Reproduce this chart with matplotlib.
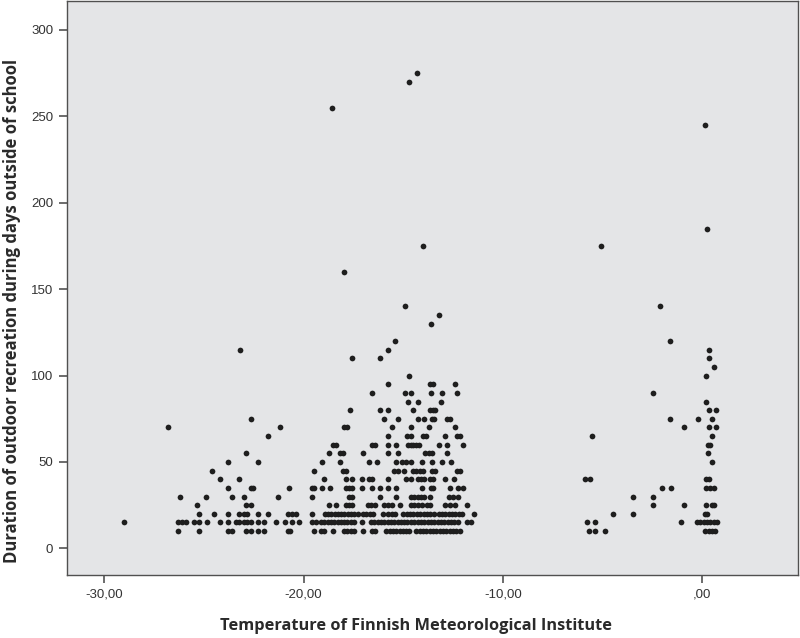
import numpy as np
import matplotlib.pyplot as plt
from matplotlib.ticker import FuncFormatter

# Temperature readings grouped by duration (minutes); each list is one horizontal row of dots
row_10 = [-26.28, -25.27, -23.78, -23.57, -22.88, -22.63, -22.28, -21.98, -20.77, -20.67,
          -19.47, -19.13, -18.97, -18.53, -17.96, -17.80, -17.63, -17.46, -17.02, -16.57, -16.41,
          -15.86, -15.69, -15.52, -15.35, -15.19, -15.02, -14.85, -14.69,
          -14.35, -14.18, -14.01, -13.85, -13.68, -13.51, -13.35, -13.18, -13.01, -12.84,
          -12.68, -12.51, -12.34, -12.18,
          -5.69, -5.39, -4.90, 0.15, 0.32, 0.49, 0.65]
row_15 = [-28.99, -26.28, -26.09, -25.92, -25.49, -25.27, -24.87, -24.17, -23.78, -23.38,
          -23.23, -22.98, -22.83, -22.63, -22.28, -22.01, -21.37, -20.92, -20.57, -20.22,
          -19.57, -19.40, -19.13, -18.97, -18.80, -18.63, -18.46, -18.30, -18.13, -17.96,
          -17.80, -17.63, -17.46, -17.07, -16.62, -16.46, -16.29, -16.12, -15.96, -15.79,
          -15.62, -15.45, -15.29, -15.12, -14.95, -14.79, -14.62, -14.45, -14.28, -14.12,
          -13.95, -13.78, -13.62, -13.45, -13.28, -13.12, -12.95, -12.78, -12.61, -12.44,
          -12.28, -11.81, -11.61,
          -5.79, -5.39, -1.05, -0.27, -0.10, 0.07, 0.24, 0.40, 0.57, 0.74]
row_20 = [-25.27, -24.52, -23.78, -23.23, -22.98, -22.83, -22.28, -21.78, -20.77, -20.57, -20.37,
          -19.57, -18.95, -18.78, -18.62, -18.45, -18.28, -18.12, -17.95, -17.78, -17.62,
          -17.45, -17.28, -17.02, -16.86, -16.69, -16.52, -16.02, -15.79, -15.57, -15.40,
          -14.99, -14.82, -14.65, -14.49, -14.32, -14.15, -13.98, -13.81, -13.65, -13.48,
          -13.23, -13.06, -12.90, -12.73, -12.56, -12.39, -12.23, -12.06, -11.44,
          -4.50, -3.50, 0.15, 0.25]
row_25 = [-25.37, -22.88, -22.63, -18.72, -18.38, -17.88, -17.71, -17.55, -16.79, -16.62,
          -16.41, -15.99, -15.79, -15.57, -15.15, -14.60, -14.44, -14.27, -14.06, -13.81,
          -13.65, -12.93, -12.64, -12.39, -11.78,
          -2.49, -0.90, 0.20, 0.50, 0.60]
row_30 = [-26.18, -24.89, -23.57, -22.98, -21.29, -19.57, -17.71, -17.55, -16.19, -15.35,
          -14.62, -14.45, -14.28, -14.11, -13.95, -13.68, -12.73, -12.51, -12.28,
          -3.50, -2.49]
row_35 = [-23.78, -22.63, -22.53, -20.72, -19.57, -19.47, -19.07, -18.70, -17.88, -17.71,
          -17.55, -17.08, -16.57, -16.19, -15.79, -15.35, -14.06, -13.61, -13.51, -12.68,
          -12.28, -12.01,
          -2.04, -1.59, 0.20, 0.40, 0.60]
row_40 = [-24.18, -23.23, -18.98, -17.88, -17.55, -17.08, -16.74, -16.57, -15.79, -14.85,
          -14.62, -14.28, -14.11, -13.95, -13.68, -13.51, -12.89, -12.48,
          -5.87, -5.65, 0.20, 0.35]
row_45 = [-24.59, -19.47, -18.00, -17.86, -15.45, -15.29, -14.95, -14.52, -14.35, -14.18,
          -14.01, -13.56, -13.40, -12.31, -12.18]
row_50 = [-23.78, -22.28, -19.07, -18.16, -16.74, -16.32, -15.35, -15.07, -14.85, -14.60,
          -14.05, -13.55, -13.05, -12.61, 0.50]
row_55 = [-22.88, -18.72, -18.16, -18.00, -17.03, -15.79, -15.29, -13.90, -13.73, -13.56,
          -12.81, 0.30]
row_60 = [-18.55, -18.38, -16.57, -16.41, -15.79, -15.39, -14.74, -14.60, -14.49, -14.35,
          -14.23, -13.23, -12.81, -11.98, 0.30, 0.40]
row_65 = [-21.78, -15.79, -14.79, -14.62, -14.01, -13.85, -12.89, -12.31, -12.18, -5.55, 0.50]
row_70 = [-26.78, -21.17, -17.96, -17.80, -15.57, -14.59, -13.73, -12.39, -0.90, 0.35, 0.70]
row_75 = [-22.63, -15.99, -15.29, -14.28, -13.98, -13.56, -13.45, -12.81, -12.64,
          -1.61, -0.20, 0.50]
row_80 = [-17.68, -16.19, -15.79, -14.49, -13.68, -13.51, -13.43, 0.35, 0.70]
row_85 = [-14.77, -14.28, -13.10, 0.20]
row_90 = [-16.57, -14.89, -14.59, -13.60, -13.05, -12.29, -2.49]
row_95 = [-15.79, -13.68, -13.51, -12.39]

rows = {10: row_10, 15: row_15, 20: row_20, 25: row_25, 30: row_30, 35: row_35,
        40: row_40, 45: row_45, 50: row_50, 55: row_55, 60: row_60, 65: row_65,
        70: row_70, 75: row_75, 80: row_80, 85: row_85, 90: row_90, 95: row_95}

# scattered higher values
high_temp = [-14.69, 0.20, 0.60, -17.55, -16.19, 0.35, -15.79, -23.20, 0.35, -15.42, -1.61,
             -13.60, -13.20, -14.90, -2.10, -17.96, -14.00, -5.10, 0.25, 0.15, -18.56,
             -14.70, -14.30]
high_dur = [100, 100, 105, 110, 110, 110, 115, 115, 115, 120, 120,
            130, 135, 140, 140, 160, 175, 175, 185, 245, 255,
            270, 275]

temperature = []
duration = []
for d, temps in rows.items():
    temperature += temps
    duration += [d] * len(temps)
temperature += high_temp
duration += high_dur

fig = plt.figure(figsize=(8, 6.38), dpi=100)
ax = fig.add_axes([0.084, 0.099, 0.914, 0.8995])
ax.set_facecolor('#e4e5e7')

ax.scatter(temperature, duration, s=17, color='#1e1e1e', linewidths=0, zorder=3)

ax.set_xlim(-31.86, 4.82)
ax.set_ylim(-15.3, 316.8)
ax.set_xticks([-30, -20, -10, 0])
ax.set_yticks(np.arange(0, 301, 50))


def comma_fmt(v, pos):
    s = f'{v:.2f}'.replace('.', ',')
    if s.startswith('0,'):
        s = s[1:]
    return s


ax.xaxis.set_major_formatter(FuncFormatter(comma_fmt))

tick_font = ['Liberation Sans Narrow', 'Liberation Sans']
for lab in ax.get_xticklabels() + ax.get_yticklabels():
    lab.set_family(tick_font)
    lab.set_fontsize(9.5)
    lab.set_color('#333333')

ax.tick_params(axis='both', direction='out', length=6, width=1.1, color='#444444', pad=4)
ax.tick_params(top=False, right=False)
for sp in ax.spines.values():
    sp.set_color('#505050')
    sp.set_linewidth(1.0)

ax.set_xlabel('Temperature of Finnish Meteorological Institute', fontsize=11.8,
              fontweight='bold', family='Open Sans', color='#2a2a2a')
ax.set_ylabel('Duration of outdoor recreation during days outside of school', fontsize=12,
              fontweight='bold', family='Open Sans', color='#2a2a2a')
ax.xaxis.set_label_coords(0.477, -0.076)
ax.yaxis.set_label_coords(-0.063, 0.46)

fig.savefig('out.png', dpi=100)
